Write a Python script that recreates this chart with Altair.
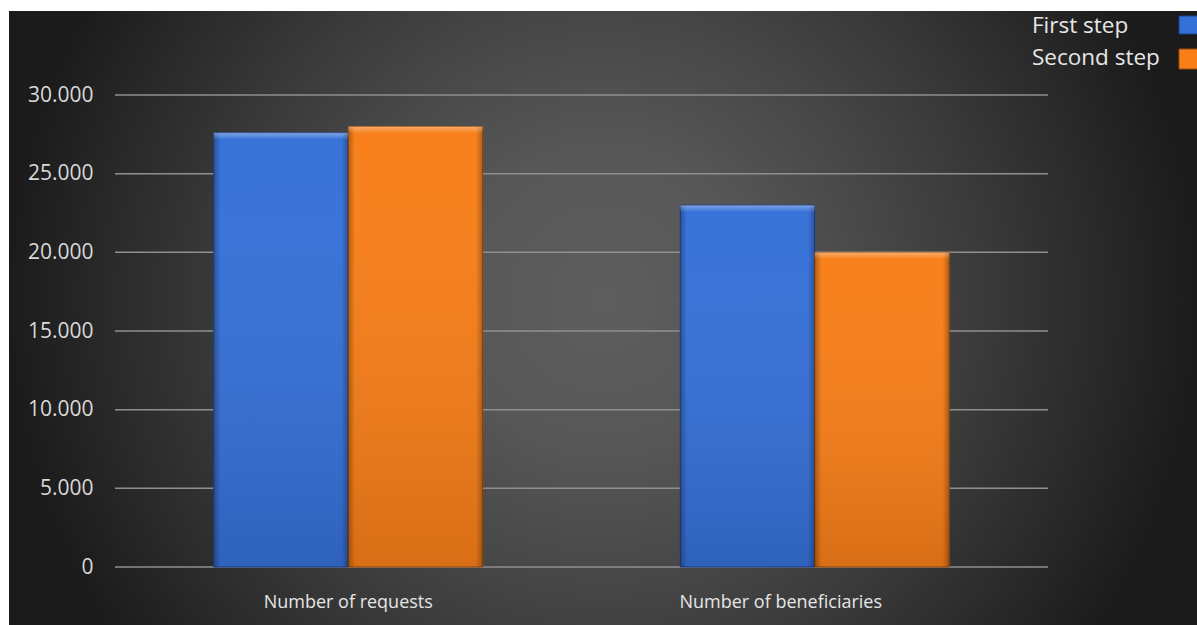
import altair as alt
import pandas as pd

categories = ["Number of requests", "Number of beneficiaries"]
series = ["First step", "Second step"]
first_step = [27600, 23000]
second_step = [28000, 20000]
y_ticks = [0, 5000, 10000, 15000, 20000, 25000, 30000]
colors = ["#3570d8", "#f87e18"]

rows = []
for i, c in enumerate(categories):
    rows.append({"category": c, "series": series[0], "value": first_step[i]})
    rows.append({"category": c, "series": series[1], "value": second_step[i]})
df = pd.DataFrame(rows)
ticks_df = pd.DataFrame({"tick": y_ticks})
one = pd.DataFrame({"a": [0]})

W, H = 933, 472
FONT = "Open Sans"
YMAX = 30000
bevel = YMAX * 7 / H

x_enc = alt.X("category:N", sort=categories, title=None,
              scale=alt.Scale(paddingInner=0.4234, paddingOuter=0.2117),
              axis=alt.Axis(labelAngle=0, labelFontSize=18, labelColor="#e6e6e6",
                            labelFont=FONT, labelPadding=26, domain=False, ticks=False,
                            labelLimit=0, zindex=1,
                            labelOffset={"condition": {"test": "datum.value == 'Number of beneficiaries'",
                                                       "value": -34},
                                         "value": 0}))
xoff = alt.XOffset("series:N", sort=series, scale=alt.Scale(paddingInner=0, paddingOuter=0))
yscale = alt.Scale(domain=[0, YMAX], nice=False)

bg = alt.Chart(one).mark_rect(
    fill=alt.Gradient(
        gradient="radial",
        stops=[
            alt.GradientStop(offset=0, color="#5e5e5e"),
            alt.GradientStop(offset=0.25, color="#575757"),
            alt.GradientStop(offset=0.5, color="#454545"),
            alt.GradientStop(offset=0.7, color="#353535"),
            alt.GradientStop(offset=0.9, color="#242424"),
            alt.GradientStop(offset=1, color="#1b1b1b"),
        ],
        x1=0.5, y1=0.5, r1=0, x2=0.5, y2=0.5, r2=0.5,
    )
).encode(x=alt.value(-106), x2=alt.value(1082), y=alt.value(-389), y2=alt.value(799))

white_top = alt.Chart(one).mark_rect(fill="white").encode(
    x=alt.value(-115), x2=alt.value(1082), y=alt.value(-95), y2=alt.value(-84))
white_left = alt.Chart(one).mark_rect(fill="white").encode(
    x=alt.value(-115), x2=alt.value(-106), y=alt.value(-95), y2=alt.value(530))

grid = alt.Chart(ticks_df).mark_rule(color="#8f8f8f", strokeWidth=1.5).encode(
    y=alt.Y("tick:Q", scale=yscale, title=None,
            axis=alt.Axis(values=y_ticks, grid=False, domain=False, ticks=False,
                          labelFontSize=21, labelColor="#d9d9d9", labelFont=FONT,
                          labelPadding=22,
                          labelExpr="replace(format(datum.value, ','), ',', '.')",
                          zindex=1)),
    x=alt.value(0), x2=alt.value(W))

bars = alt.Chart(df).mark_bar(strokeWidth=1).encode(
    x=x_enc, xOffset=xoff, y=alt.Y("value:Q", scale=yscale),
    color=alt.Color("series:N", sort=series, scale=alt.Scale(domain=series, range=colors), legend=None),
    stroke=alt.Stroke("series:N", sort=series,
                      scale=alt.Scale(domain=series, range=["#1d3f85", "#9c4c0c"]), legend=None),
)

shade_v = alt.Chart(df).mark_bar(
    fill=alt.Gradient(gradient="linear",
                      stops=[alt.GradientStop(offset=0, color="rgba(255,255,255,0.02)"),
                             alt.GradientStop(offset=1, color="rgba(0,0,0,0.13)")],
                      x1=0, x2=0, y1=0, y2=1)
).encode(x=alt.X("category:N", sort=categories), xOffset=xoff, y="value:Q")

shade_h = alt.Chart(df).mark_bar(
    fill=alt.Gradient(gradient="linear",
                      stops=[alt.GradientStop(offset=0, color="rgba(0,0,0,0.28)"),
                             alt.GradientStop(offset=0.05, color="rgba(0,0,0,0)"),
                             alt.GradientStop(offset=0.95, color="rgba(0,0,0,0)"),
                             alt.GradientStop(offset=1, color="rgba(0,0,0,0.28)")],
                      x1=0, x2=1, y1=0, y2=0)
).encode(x=alt.X("category:N", sort=categories), xOffset=xoff, y="value:Q")

top_bevel = alt.Chart(df).transform_calculate(
    low=f"datum.value - {bevel}"
).mark_bar(
    fill=alt.Gradient(gradient="linear",
                      stops=[alt.GradientStop(offset=0, color="rgba(255,255,255,0.35)"),
                             alt.GradientStop(offset=1, color="rgba(255,255,255,0.0)")],
                      x1=0, x2=0, y1=0, y2=1)
).encode(x=alt.X("category:N", sort=categories), xOffset=xoff, y="value:Q", y2="low:Q")

leg_text1 = alt.Chart(one).mark_text(text=series[0], align="left", baseline="alphabetic",
                                     font=FONT, fontSize=22.5, color="#e6e6e6").encode(
    x=alt.value(917), y=alt.value(-62))
leg_text2 = alt.Chart(one).mark_text(text=series[1], align="left", baseline="alphabetic",
                                     font=FONT, fontSize=22.5, color="#e6e6e6").encode(
    x=alt.value(917), y=alt.value(-30))
leg_sym1 = alt.Chart(one).mark_rect(fill=colors[0], stroke="#1d3f85").encode(
    x=alt.value(1064), x2=alt.value(1090), y=alt.value(-79), y2=alt.value(-61))
leg_sym2 = alt.Chart(one).mark_rect(fill=colors[1], stroke="#9c4c0c").encode(
    x=alt.value(1064), x2=alt.value(1090), y=alt.value(-46), y2=alt.value(-26))

chart = alt.layer(
    bg, white_top, white_left, grid, bars, shade_v, shade_h, top_bevel,
    leg_text1, leg_text2, leg_sym1, leg_sym2
).properties(
    width=W, height=H,
    autosize=alt.AutoSizeParams(type="none"),
    padding={"left": 115, "top": 95, "right": 149, "bottom": 58},
    background="white",
).configure_view(stroke=None)

chart.save("out.html", embed_options={"renderer": "svg", "actions": False})
